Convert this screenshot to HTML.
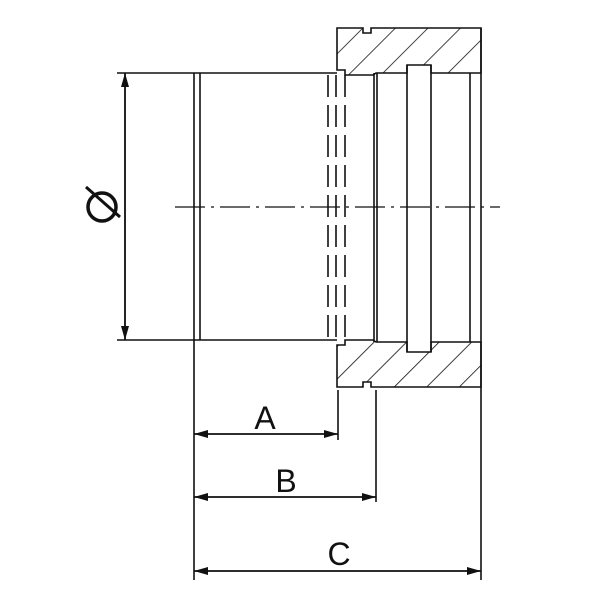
<!DOCTYPE html>
<html><head><style>body{margin:0;background:#fff}svg{display:block}</style></head><body>
<svg width="600" height="600" viewBox="0 0 600 600" xmlns="http://www.w3.org/2000/svg">
<defs>
<pattern id="h" patternUnits="userSpaceOnUse" width="23" height="23" patternTransform="rotate(45)">
<line x1="0" y1="0" x2="0" y2="23" stroke="#111" stroke-width="1.6"/>
</pattern>
<marker id="ar" markerWidth="14" markerHeight="8" refX="14" refY="4" orient="auto" markerUnits="userSpaceOnUse">
<path d="M0,0 L14,4 L0,8 Z" fill="#111"/></marker>
</defs>
<rect width="600" height="600" fill="#fff"/>
<g stroke="#111" stroke-width="1.6" fill="none">
<path d="M337,28 H363 V33 H371 V28 H481 V73 H431 V65 H407 V73 H376 L373,75 H345 V70 H337 Z" fill="url(#h)"/>
<path d="M337,387 H363 V382 H371 V387 H481 V342 H431 V352 H407 V342 H376 L373,340 H345 V345 H337 Z" fill="url(#h)"/>
<line x1="117" y1="73" x2="337" y2="73"/>
<line x1="117" y1="340" x2="337" y2="340"/>
<line x1="194" y1="73" x2="194" y2="580"/>
<line x1="200" y1="73" x2="200" y2="340"/>
<g stroke-dasharray="22,8">
<line x1="328" y1="75" x2="328" y2="340"/>
<line x1="336" y1="75" x2="336" y2="340"/>
<line x1="345" y1="75" x2="345" y2="340"/>
</g>
<line x1="374" y1="73" x2="374" y2="342"/>
<line x1="377" y1="73" x2="377" y2="342"/>
<line x1="407" y1="65" x2="407" y2="352"/>
<line x1="431" y1="65" x2="431" y2="352"/>
<line x1="470" y1="73" x2="470" y2="342"/>
<line x1="481" y1="28" x2="481" y2="580"/>
<line x1="338" y1="390" x2="338" y2="440"/>
<line x1="376" y1="390" x2="376" y2="502"/>
<line x1="175" y1="207" x2="500" y2="207" stroke-width="1.2" stroke-dasharray="30,6,3,6"/>
<line x1="194" y1="434" x2="338" y2="434" marker-end="url(#ar)"/>
<line x1="338" y1="434" x2="194" y2="434" marker-end="url(#ar)"/>
<line x1="194" y1="497" x2="376" y2="497" marker-end="url(#ar)"/>
<line x1="376" y1="497" x2="194" y2="497" marker-end="url(#ar)"/>
<line x1="194" y1="571" x2="481" y2="571" marker-end="url(#ar)"/>
<line x1="481" y1="571" x2="194" y2="571" marker-end="url(#ar)"/>
<line x1="125" y1="340" x2="125" y2="73" marker-end="url(#ar)"/>
<line x1="125" y1="73" x2="125" y2="340" marker-end="url(#ar)"/>
<circle cx="102" cy="207" r="14" stroke-width="3.5"/>
<line x1="86" y1="187" x2="120" y2="217" stroke-width="3"/>
</g>
<g font-family="Liberation Sans, sans-serif" font-size="32" fill="#111" text-anchor="middle">
<text x="265" y="429">A</text>
<text x="286" y="492">B</text>
<text x="339" y="565">C</text>
</g>
</svg>
</body></html>
